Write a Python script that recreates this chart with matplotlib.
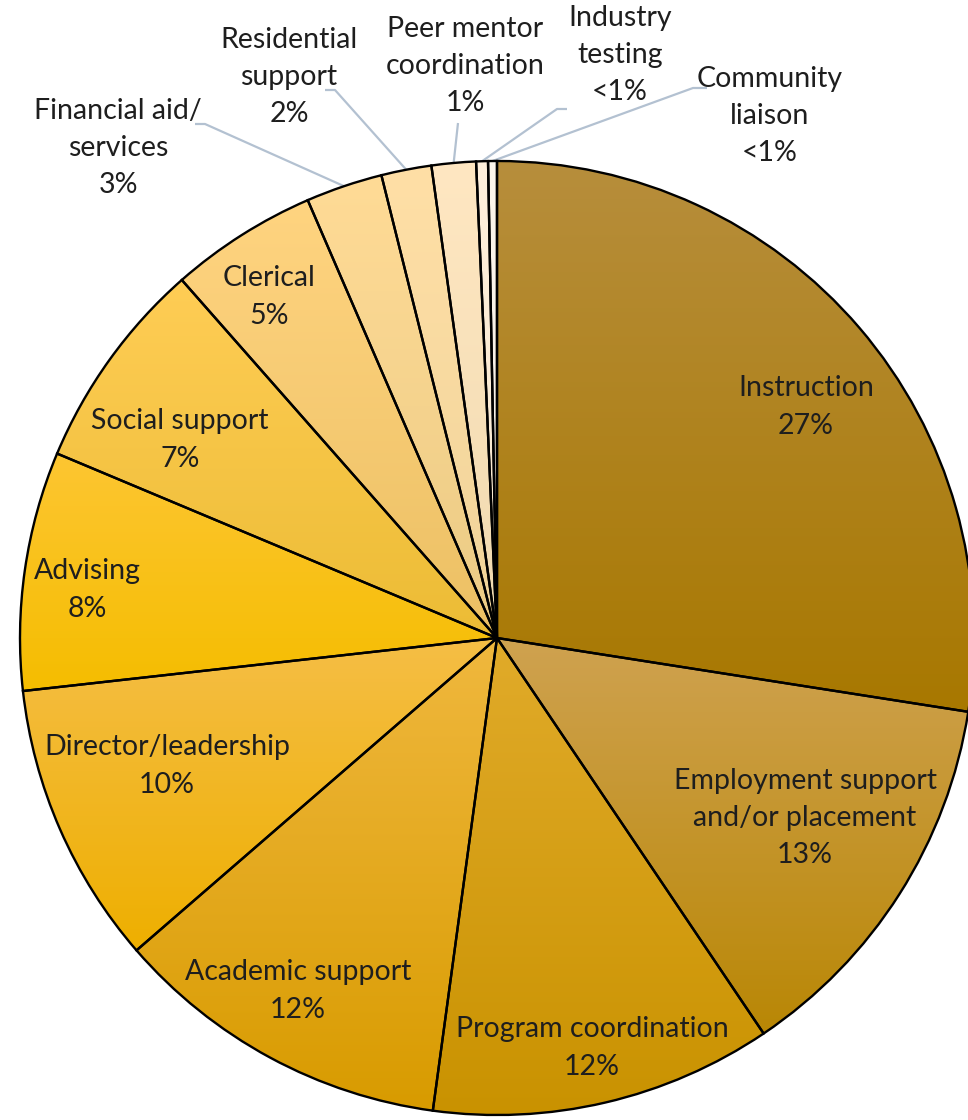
import numpy as np
import matplotlib.pyplot as plt
from matplotlib.colors import LinearSegmentedColormap

plt.rcParams['font.family'] = ['Lato', 'DejaVu Sans']

# staff role shares (percent of total), clockwise from 12 o'clock
roles = ['Instruction', 'Employment support\nand/or placement', 'Program coordination',
         'Academic support', 'Director/leadership', 'Advising', 'Social support',
         'Clerical', 'Financial aid/\nservices', 'Residential\nsupport',
         'Peer mentor\ncoordination', 'Industry\ntesting', 'Community\nliaison']
shares = [27.5, 13.1, 11.6, 11.5, 9.6, 8.1, 7.2, 5.0, 2.6, 1.7, 1.5, 0.4, 0.3]
pct_text = ['27%', '13%', '12%', '12%', '10%', '8%', '7%', '5%', '3%', '2%', '1%', '<1%', '<1%']

# gradient fill per slice: light at the top, darker at the bottom
top_colors = ['#b78e3c', '#cfa250', '#e1ab2a', '#f0b83e', '#f5be46', '#fdc632',
              '#ffcd55', '#ffd480', '#ffdb96', '#ffdfa6', '#ffe7c2', '#fff0dc', '#fcf6ec']
bottom_colors = ['#a87800', '#b98705', '#c99200', '#d89b00', '#eeaf00', '#f5bd00',
                 '#ecbc35', '#ecc064', '#ebcb85', '#f0d49a', '#f0dab0', '#f6e6cc', '#f4ece0']

# label anchors in image pixels (x, y from top-left)
label_pos = [(806, 407), (805, 818), (592, 1048), (298, 991), (167, 766), (87, 590),
             (180, 440), (269, 297), (118, 148), (289, 77), (465, 66), (620, 55), (770, 116)]
# leader line elbows for the outside labels (pixels), None = inside label
leader_elbow = [None] * 8 + [[(195, 124), (205, 124)], [(325, 90), (335, 90)],
                              [(458, 123)], [(567, 109), (557, 109)], [(707, 88), (693, 88)]]

W, H = 968, 1120
CX, CY, R = 497, 638, 477


def px(x, y):
    return x, H - y


fig = plt.figure(figsize=(W / 100, H / 100), dpi=100)
ax = fig.add_axes([0, 0, 1, 1])

wedges, _ = ax.pie(shares, startangle=90, counterclock=False, radius=R,
                   center=px(CX, CY),
                   colors=top_colors,
                   wedgeprops=dict(edgecolor='black', linewidth=1.7))

for w, c_top, c_bot in zip(wedges, top_colors, bottom_colors):
    verts = w.get_path().vertices
    x0, x1 = verts[:, 0].min(), verts[:, 0].max()
    y0, y1 = verts[:, 1].min(), verts[:, 1].max()
    cmap = LinearSegmentedColormap.from_list('g', [c_bot, c_top])
    grad = np.linspace(1, 0, 256).reshape(-1, 1)
    im = ax.imshow(grad, cmap=cmap, extent=(x0, x1, y0, y1), aspect='auto',
                   origin='upper', zorder=0.5, interpolation='bilinear')
    im.set_clip_path(w)
    w.set_facecolor('none')
    w.set_zorder(2)

# labels
total = sum(shares)
cum = np.cumsum([0] + shares[:-1])
for i, (name, pct) in enumerate(zip(roles, pct_text)):
    x, y = px(*label_pos[i])
    ax.text(x, y, name + '\n' + pct, ha='center', va='center', fontsize=20.5,
            color='#1e1e1e', linespacing=1.53, zorder=5)
    if leader_elbow[i] is not None:
        mid = (cum[i] + shares[i] / 2) / total * 360
        theta = np.deg2rad(90 - mid)
        ex = CX + R * np.cos(theta)
        ey = CY - R * np.sin(theta)
        pts = [(ex, ey)] + leader_elbow[i][::-1]
        pts = [px(a, b) for a, b in pts]
        ax.plot([p[0] for p in pts], [p[1] for p in pts], color='#b3c1d1',
                linewidth=1.6, zorder=1, solid_capstyle='butt')

ax.set_xlim(0, W)
ax.set_ylim(0, H)
ax.set_aspect('equal')
ax.axis('off')

fig.savefig('out.png', dpi=100)
